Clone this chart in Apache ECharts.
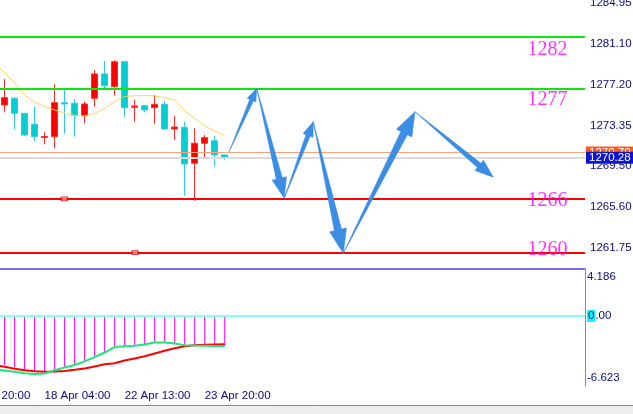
<!DOCTYPE html>
<html><head><meta charset="utf-8">
<script src="https://cdn.jsdelivr.net/npm/echarts@6/dist/echarts.min.js"></script>
<style>html,body{margin:0;padding:0;background:#fff}#c{width:633px;height:414px}</style>
</head><body><div id="c"></div>
<script>
// ---- category / tick data ----
const nCats = 63;
const tickPos = [0, 8, 16, 24];
const tickText = ['17 Apr 20:00', '18 Apr 04:00', '22 Apr 13:00', '23 Apr 20:00'];
const firstCandle = 4;

// ---- candles (red = up, cyan = down) ----
const opens  = [1275.29,1275.93,1274.50,1273.46,1272.21,1272.28,1275.51,1275.45,1274.28,1275.93,1278.24,1277.03,1279.40,1275.07,1275.23,1275.04,1275.36,1273.01,1273.17,1269.76,1271.66,1271.90,1270.55];
const closes = [1275.99,1274.50,1272.44,1272.28,1272.30,1275.51,1275.39,1274.30,1275.39,1278.24,1277.12,1279.40,1275.04,1275.20,1274.82,1275.36,1273.01,1273.20,1269.69,1271.66,1272.19,1270.55,1270.28];
const lows   = [1274.60,1273.01,1272.35,1271.87,1271.56,1271.18,1272.54,1272.28,1273.58,1275.13,1276.88,1276.18,1274.18,1273.71,1274.60,1273.49,1272.95,1271.97,1266.68,1266.21,1270.17,1269.44,1270.04];
const highs  = [1277.76,1275.99,1274.53,1275.13,1272.70,1277.26,1276.88,1275.83,1275.61,1278.61,1279.47,1279.54,1279.47,1275.77,1275.29,1276.24,1275.67,1274.28,1273.71,1273.08,1272.44,1272.35,1270.55];

// moving average, starting one bar before the first visible candle
const maStart = 3;
const maValues = [1279.30,1278.35,1277.40,1276.24,1275.58,1275.15,1274.82,1274.53,1274.30,1274.25,1274.50,1274.98,1275.61,1276.10,1276.17,1276.19,1276.15,1275.99,1275.77,1274.72,1274.03,1273.30,1272.82,1272.38];

// ---- price levels ----
const greenLevels = [1281.78, 1276.88];
const redLevels = [1266.37, 1261.27];
const askPrice = 1270.79;
const bidPrice = 1270.28;
const levelTexts = ['1282', '1277', '1266', '1260'];
const levelTextPrices = [1280.50, 1275.76, 1266.22, 1261.52];
const levelTextX = 58.25;
const anchorX = [9.97, 17.03];
const anchorPrice = [1266.37, 1261.27];

// ---- drawn arrows (path points) ----
const arrowX = [26.43, 29.20, 31.95, 34.85, 37.85, 45.01, 52.84];
const arrowPrice = [1270.83, 1276.88, 1266.44, 1273.71, 1261.21, 1274.66, 1268.43];

// ---- axis ticks ----
const yTicks = [1284.95, 1281.10, 1277.20, 1273.35, 1269.50, 1265.60, 1261.75];
const priceMin = 1259.72, priceMax = 1285.26;
const macdTicks = [4.186, 0, -6.623];
const macdMin = -7.495, macdMax = 4.925;

// ---- MACD panel ----
const macdStart = 3;
const macdGreen = [-5.71,-5.84,-5.97,-6.12,-6.21,-6.15,-5.81,-5.51,-5.25,-4.86,-4.41,-3.91,-3.32,-3.23,-3.18,-3.05,-2.83,-2.84,-2.94,-3.13,-3.17,-3.19,-3.21,-3.21];
const macdRed   = [-5.26,-5.43,-5.65,-5.82,-5.92,-5.96,-5.95,-5.88,-5.76,-5.62,-5.41,-5.17,-5.05,-4.76,-4.56,-4.31,-4.01,-3.73,-3.45,-3.24,-3.14,-3.09,-3.05,-3.02];
const macdHist  = [-5.25,-5.49,-5.78,-5.96,-6.03,-5.78,-5.49,-5.25,-4.79,-4.36,-3.99,-3.35,-3.21,-3.10,-3.00,-2.82,-2.86,-2.92,-3.10,-3.10,-3.10,-3.10,-3.18];

// ---- build ----
const cats = Array.from({length: nCats}, (_, i) => 'c' + i);
const candleData = opens.map((o, i) => [firstCandle + i, o, closes[i], lows[i], highs[i]]);
const maData = maValues.map((v, i) => [maStart + i, v]);
const gData = macdGreen.map((v, i) => [macdStart + i, v]);
const rData = macdRed.map((v, i) => [macdStart + i, v]);
const hData = macdHist.map((v, i) => [firstCandle + i, v]);
const arrowData = arrowX.slice(0, -1).map((x, i) => [x, arrowPrice[i], arrowX[i + 1], arrowPrice[i + 1]]);

const axisColor = '#8484e0';
const txtColor = '#0a0a80';
const font = 'Liberation Sans, Arial, sans-serif';
const fs = 11.5;
const showTick = (idx) => tickPos.indexOf(idx) >= 0;

const chart = echarts.init(document.getElementById('c'), null, {renderer: 'canvas'});
chart.setOption({
  animation: false,
  backgroundColor: '#fff',
  grid: [
    {left: -35.5, top: 0, width: 620.5, height: 269, outerBoundsMode: 'none', containLabel: false},
    {left: -35.5, top: 270, width: 620.5, height: 116, outerBoundsMode: 'none', containLabel: false}
  ],
  xAxis: [
    {type: 'category', gridIndex: 0, data: cats, boundaryGap: false,
     axisLine: {show: true, lineStyle: {color: '#7272dc', width: 2}},
     axisTick: {show: false}, axisLabel: {show: false}, splitLine: {show: false}},
    {type: 'value', gridIndex: 0, min: 0, max: nCats - 1, show: false},
    {type: 'category', gridIndex: 1, data: cats, boundaryGap: false,
     axisLine: {show: true, lineStyle: {color: axisColor, width: 1}},
     axisTick: {show: true, interval: showTick, length: 4, lineStyle: {color: axisColor}},
     axisLabel: {show: true, interval: showTick, align: 'left', margin: 4,
       color: txtColor, fontFamily: font, fontSize: fs,
       formatter: (v, idx) => { const k = tickPos.indexOf(idx); return k >= 0 ? tickText[k] : ''; }},
     splitLine: {show: false}}
  ],
  yAxis: [
    {type: 'value', gridIndex: 0, position: 'right', min: priceMin, max: priceMax, scale: true,
     splitLine: {show: false},
     axisLine: {show: true, lineStyle: {color: axisColor, width: 1}},
     axisTick: {show: true, customValues: yTicks, length: 3, lineStyle: {color: axisColor}},
     axisLabel: {show: true, customValues: yTicks, margin: 5, color: txtColor, fontFamily: font, fontSize: fs,
       formatter: v => v.toFixed(2)}},
    {type: 'value', gridIndex: 1, position: 'right', min: macdMin, max: macdMax,
     splitLine: {show: false},
     axisLine: {show: true, lineStyle: {color: axisColor, width: 1}},
     axisTick: {show: false},
     axisLabel: {show: true, customValues: macdTicks, margin: 2, color: txtColor, fontFamily: font, fontSize: fs,
       formatter: v => v === 0 ? '{c|0}.00' : String(v),
       rich: {c: {backgroundColor: '#00ffff', color: txtColor, fontFamily: font, fontSize: fs, padding: [0, 1, 0, 1]}}}}
  ],
  series: [
    {type: 'candlestick', xAxisIndex: 0, yAxisIndex: 0, barWidth: 7,
     encode: {x: 0, y: [1, 2, 3, 4]},
     itemStyle: {color: '#ff0000', color0: '#00ced1', borderColor: '#ff2a2a', borderColor0: '#34c6f2', borderWidth: 1},
     data: candleData},
    {type: 'line', xAxisIndex: 0, yAxisIndex: 0, data: maData, symbol: 'none', smooth: false,
     lineStyle: {color: '#ffd35c', width: 1}, z: 3},
    {type: 'line', xAxisIndex: 0, yAxisIndex: 0, data: [], z: 4,
     markLine: {silent: true, symbol: ['none', 'none'], animation: false,
       data: [
         ...greenLevels.map(v => ({yAxis: v, lineStyle: {color: '#0ce60c', width: 2, type: 'solid'}, label: {show: false}})),
         ...redLevels.map(v => ({yAxis: v, lineStyle: {color: '#ff0000', width: 2, type: 'solid'}, label: {show: false}})),
         {yAxis: askPrice, lineStyle: {color: '#ffa07a', width: 1, type: 'solid'},
          label: {show: true, position: 'end', distance: 1, formatter: askPrice.toFixed(2), color: '#fff',
            backgroundColor: '#ff5a1e', padding: [0, 6, 0, 3], fontFamily: font, fontSize: fs, lineHeight: 12}},
         {yAxis: bidPrice, lineStyle: {color: '#dcdcdc', width: 2, type: 'solid'},
          label: {show: true, position: 'end', distance: 1, formatter: bidPrice.toFixed(2), color: '#fff',
            backgroundColor: '#0a14d2', padding: [0, 6, 0, 3], fontFamily: font, fontSize: fs, lineHeight: 12}}
       ]}},
    {type: 'scatter', xAxisIndex: 1, yAxisIndex: 0, z: 6, symbol: 'rect', symbolSize: [6, 4],
     itemStyle: {color: '#ff9090', borderColor: '#e00000', borderWidth: 1},
     data: anchorX.map((x, i) => [x, anchorPrice[i]])},
    {type: 'scatter', xAxisIndex: 1, yAxisIndex: 0, z: 7, symbolSize: 1,
     itemStyle: {color: 'rgba(0,0,0,0)'},
     label: {show: true, position: 'inside', color: '#ff00ff', fontFamily: 'Liberation Serif, Times New Roman, serif', fontSize: 20},
     data: levelTextPrices.map((p, i) => ({value: [levelTextX, p], label: {formatter: levelTexts[i]}}))},
    {type: 'custom', xAxisIndex: 1, yAxisIndex: 0, z: 8, clip: false,
     encode: {x: [0, 2], y: [1, 3]},
     data: arrowData,
     renderItem: (params, api) => {
       const p0 = api.coord([api.value(0), api.value(1)]);
       const p1 = api.coord([api.value(2), api.value(3)]);
       const dx = p1[0] - p0[0], dy = p1[1] - p0[1], L = Math.hypot(dx, dy);
       const ux = dx / L, uy = dy / L, nx = -uy, ny = ux;
       const hl = Math.max(13, Math.min(24, 0.18 * L));
       const hw = hl * 0.36, sw = hw * 0.42;
       const bx = p1[0] - ux * hl, by = p1[1] - uy * hl;
       const pts = [[p0[0], p0[1]], [bx + nx * sw, by + ny * sw], [bx + nx * hw, by + ny * hw], [p1[0], p1[1]],
                    [bx - nx * hw, by - ny * hw], [bx - nx * sw, by - ny * sw]];
       return {type: 'polygon', shape: {points: pts}, style: {fill: '#3a8ee6', stroke: '#2f84dc', lineWidth: 0.5}};
     }},
    {type: 'bar', xAxisIndex: 2, yAxisIndex: 1, barWidth: 1, data: hData,
     itemStyle: {color: '#ff00ff'},
     markLine: {silent: true, symbol: ['none', 'none'], animation: false,
       data: [{yAxis: 0, lineStyle: {color: '#80ffff', width: 2, type: 'solid'}, label: {show: false}}]}},
    {type: 'line', xAxisIndex: 2, yAxisIndex: 1, data: rData, symbol: 'none', lineStyle: {color: '#ff0000', width: 2}, z: 3},
    {type: 'line', xAxisIndex: 2, yAxisIndex: 1, data: gData, symbol: 'none', lineStyle: {color: '#18e878', width: 2}, z: 4}
  ],
  graphic: [
    {type: 'rect', left: 0, top: 406, shape: {width: 633, height: 8}, style: {fill: '#eeeeee'}, silent: true},
    {type: 'line', shape: {x1: 0, y1: 405.5, x2: 633, y2: 405.5}, style: {stroke: '#8a8a8a', lineWidth: 1}, silent: true}
  ]
});
</script></body></html>
